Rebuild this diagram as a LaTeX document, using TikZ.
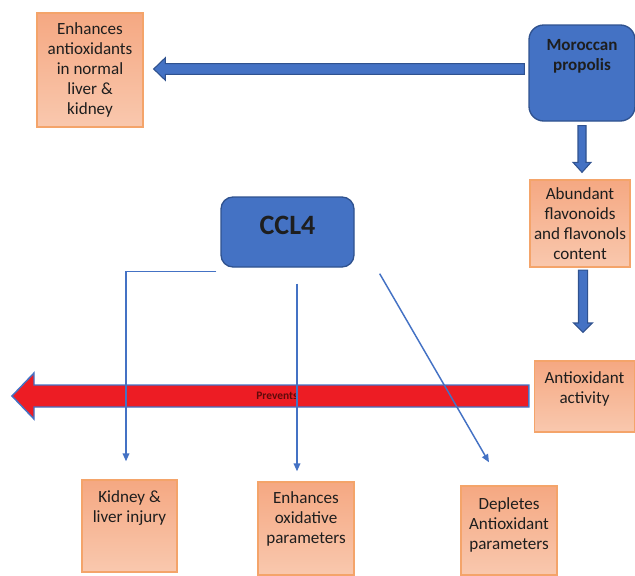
\documentclass[tikz,border=0pt]{standalone}
\usepackage{fontspec}
\setmainfont{Carlito}
\usetikzlibrary{arrows.meta,calc}

\definecolor{boxblue}{HTML}{4472C4}
\definecolor{boxblueline}{HTML}{2F528F}
\definecolor{orangetop}{HTML}{F5A882}
\definecolor{orangebot}{HTML}{F9C8AE}
\definecolor{orangeline}{HTML}{F4A46A}
\definecolor{arrowred}{HTML}{ED1C24}
\definecolor{prevred}{HTML}{5E0A0A}
\definecolor{txtgray}{HTML}{1E1E1E}

% text set at the top of a box: height, width, top pad, text
\newcommand{\toptxt}[4]{\parbox[c][#1][t]{#2}{\centering\vspace*{#3}#4}}

% block arrows: style, tail, tip, half shaft, half head, head length
\newcommand{\leftblock}[6]{%
  \path[#1] let \p1=(#2), \p2=(#3) in
    (\x1,\y1+#4) -- (\x2+#6,\y1+#4) -- (\x2+#6,\y1+#5) -- (\x2,\y1)
    -- (\x2+#6,\y1-#5) -- (\x2+#6,\y1-#4) -- (\x1,\y1-#4) -- cycle;}
\newcommand{\downblock}[6]{%
  \path[#1] let \p1=(#2), \p2=(#3) in
    (\x1+#4,\y1) -- (\x1+#4,\y2+#6) -- (\x1+#5,\y2+#6) -- (\x1,\y2)
    -- (\x1-#5,\y2+#6) -- (\x1-#4,\y2+#6) -- (\x1-#4,\y1) -- cycle;}

\tikzset{
  txt/.style={font=\fontsize{12.8}{15}\selectfont, text=txtgray},
  bluebox/.style={txt, draw=boxblueline, fill=boxblue, line width=1pt,
    rounded corners=9pt, inner sep=0pt},
  orangebox/.style={txt, draw=orangeline, top color=orangetop,
    bottom color=orangebot, line width=1pt, inner sep=0pt, align=center},
  bluearrow/.style={draw=boxblueline, fill=boxblue, line width=0.8pt},
  redarrow/.style={draw=boxblue, fill=arrowred, line width=1.1pt},
  thinarrow/.style={draw=boxblue, line width=1.1pt,
    -{Triangle[length=6pt,width=5pt]}}
}

\begin{document}
\begin{tikzpicture}[x=0.75pt,y=-0.75pt]
    \useasboundingbox (0,0) rectangle (635,575);

    % Boxes
    \node[orangebox, minimum width=79.5pt, minimum height=85.5pt] (enh) at (90,70)
        {Enhances\\antioxidants\\in normal\\liver \&\\kidney};
    \node[bluebox, rounded corners=11pt, minimum width=79.5pt, minimum height=72pt] (prop) at (582,73)
        {\toptxt{72pt}{79.5pt}{10.5pt}{\bfseries Moroccan\\propolis}};
    \node[orangebox, minimum width=75pt, minimum height=65.25pt] (abund) at (580,223.5)
        {Abundant\\flavonoids\\and flavonols\\content};
    \node[orangebox, minimum width=75pt, minimum height=53.25pt] (antiox) at (584.5,396.5)
        {\toptxt{53.25pt}{75pt}{8pt}{Antioxidant\\activity}};
    \node[bluebox, minimum width=99.75pt, minimum height=52.5pt] (ccl4) at (287.5,232)
        {\toptxt{52.5pt}{99.75pt}{14pt}{\fontsize{21}{24}\selectfont\bfseries CCL4}};
    \node[orangebox, minimum width=71.25pt, minimum height=69pt] (kid) at (129.5,526)
        {\toptxt{69pt}{71.25pt}{8pt}{Kidney \&\\liver injury}};
    \node[orangebox, minimum width=72pt, minimum height=69.75pt] (oxi) at (306,528.5)
        {\toptxt{69.75pt}{72pt}{7pt}{Enhances\\oxidative\\parameters}};
    \node[orangebox, minimum width=72pt, minimum height=66.75pt] (depl) at (509,530.5)
        {\toptxt{66.75pt}{72pt}{8.5pt}{Depletes\\Antioxidant\\parameters}};

    % Block arrows
    \leftblock{bluearrow}{$(prop.west)+(-4,-4)$}{$(enh.east)+(10,0)$}{4pt}{8.5pt}{8.8pt}
    \downblock{bluearrow}{$(prop.south)+(0,4)$}{$(abund.north)+(0,-7)$}{3pt}{6.75pt}{7.5pt}
    \downblock{bluearrow}{$(abund.south)+(3,2.5)$}{$(antiox.north)+(0,-28)$}{3.4pt}{7.1pt}{7pt}

    % Prevents
    \coordinate (redtip) at (12,396);
    \leftblock{redarrow}{$(antiox.west)+(-5,-0.5)$}{redtip}{8.25pt}{17.25pt}{16.5pt}
    \node[font=\fontsize{8.6}{10}\selectfont\bfseries, text=prevred] (prev) at (277,395.5) {Prevents};

    % CCL4 effects
    \coordinate (kidin) at ($(kid.north)+(-3.5,-18)$);
    \coordinate (oxiin) at ($(oxi.north)+(-9,-10)$);
    \coordinate (deplin) at ($(depl.north)+(-20,-23)$);
    \draw[thinarrow] ($(ccl4.south west)+(-4,4)$) -| (kidin);
    \draw[thinarrow] ($(ccl4.south -| oxiin)+(0,16)$) -- (oxiin);
    \draw[thinarrow] ($(ccl4.south east)+(25,6)$) -- (deplin);
\end{tikzpicture}
\end{document}
